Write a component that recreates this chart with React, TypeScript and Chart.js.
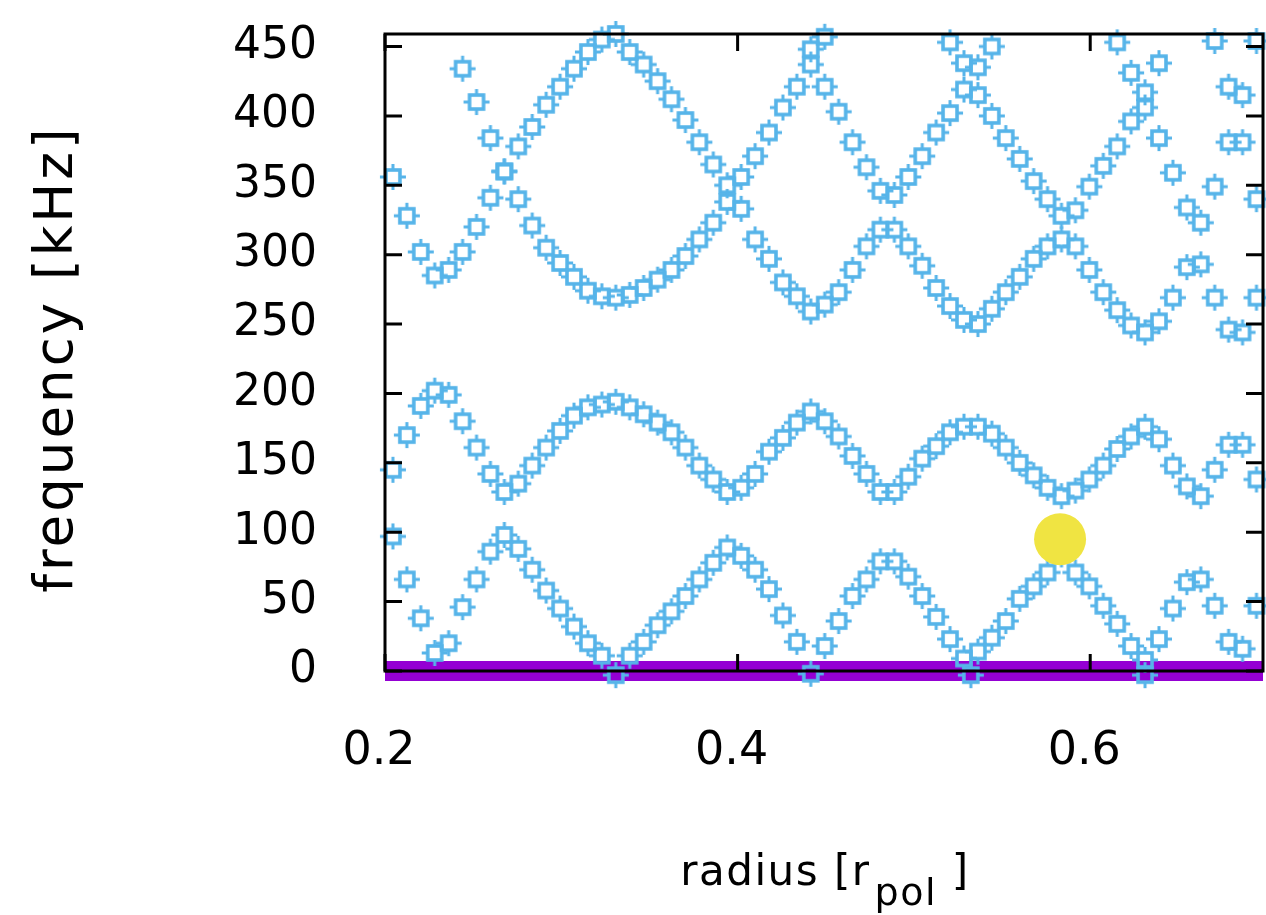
import React, { useEffect, useRef } from 'react';
import { Chart, registerables } from 'chart.js';

Chart.register(...registerables);

// radial grid (r_pol)
const radius = [
  0.2045, 0.2124, 0.2203, 0.2282, 0.2361, 0.2440, 0.2519, 0.2598, 0.2677, 0.2756,
  0.2835, 0.2914, 0.2993, 0.3072, 0.3151, 0.3230, 0.3309, 0.3388, 0.3467, 0.3546,
  0.3625, 0.3704, 0.3783, 0.3862, 0.3941, 0.4020, 0.4099, 0.4178, 0.4257, 0.4336,
  0.4415, 0.4494, 0.4573, 0.4652, 0.4731, 0.4810, 0.4889, 0.4968, 0.5047, 0.5126,
  0.5205, 0.5284, 0.5363, 0.5442, 0.5521, 0.5600, 0.5679, 0.5758, 0.5837, 0.5916,
  0.5995, 0.6074, 0.6153, 0.6232, 0.6311, 0.6390, 0.6469, 0.6548, 0.6627, 0.6706,
  0.6785, 0.6864, 0.6943,
];

// lowest mode (kHz), starts at radius index 0
const modeLStart = 0;
const modeL = [
  97, 66, 38, 13, 20, 46, 66, 86, 98, 88,
  73, 58, 45, 32, 20, 11, -3, 11, 21, 33,
  43, 54, 66, 78, 89, 83, 73, 59, 40, 21,
  -2, 18, 36, 54, 66, 79, 79, 68, 54, 39,
  23, 9, 14, 24, 36, 52, 61, 71, 84, 71,
  61, 47, 34, 18, 8, 23, 45, 64, 66, 47,
  21, 16, 47,
];

// second mode band
const mode2Start = 0;
const mode2 = [
  145, 170, 191, 202, 199, 180, 161, 142, 129, 135,
  148, 161, 173, 184, 190, 192, 194, 190, 185, 179,
  172, 161, 148, 138, 129, 132, 142, 158, 168, 179,
  187, 180, 169, 155, 142, 129, 129, 140, 153, 162,
  172, 176, 176, 171, 161, 150, 141, 132, 126, 130,
  138, 148, 160, 169, 176, 167, 148, 133, 126, 145,
  163, 163, 138,
];

// upper modes
const modeAStart = 0;
const modeA = [
  356, 328, 302, 285, 289, 302, 320, 341, 360, 378,
  392, 408, 421, 434, 446, 455, 459, 446, 437, 425,
  412, 397, 381, 365, 350, 333, 311, 297, 280, 270,
  259, 264, 273, 289, 306, 318, 343, 356, 371, 388,
  402, 419, 435, 450,
];

const modeBStart = 5;
const modeB = [
  434, 410, 384, 360, 340, 321, 305, 294, 284, 274,
  270, 269, 271, 276, 282, 289, 299, 311, 323, 338,
  356, 371, 388, 406, 421, 437, 457,
];

const modeCStart = 30;
const modeC = [
  448, 421, 403, 381, 363, 346, 318, 306, 292, 276,
  263, 253, 250, 261, 273, 284, 297, 306, 311, 332,
  349, 364, 378, 396, 406,
];

const modeDStart = 40;
const modeD = [
  453, 438, 415, 400, 384, 369, 353, 340, 328, 306,
  289, 273, 260, 249, 244, 252, 269, 291, 293, 269,
  246, 244, 269,
];

// isolated points near the outer edge and below zero
const extraX = [0.6153, 0.6232, 0.6311, 0.6390, 0.6390, 0.6469, 0.6548, 0.6627, 0.6706, 0.6785, 0.6864, 0.6785, 0.6864, 0.6706, 0.6943, 0.6943, 0.5323, 0.6311];
const extraY = [453, 431, 417, 438, 384, 359, 334, 323, 349, 381, 381, 421, 415, 454, 454, 340, -3, -3];

// highlighted point
const markX = [0.5829];
const markY = [95];

// zero line
const baseX = [0.2, 0.698];
const baseY = [0, 0];

const xTickValues = [0.2, 0.4, 0.6];
const yTickValues = [0, 50, 100, 150, 200, 250, 300, 350, 400, 450];

const FONT = '"DejaVu Sans", "Liberation Sans", sans-serif';
const BLUE = '#56B4E9';

function branch(start: number, values: number[]) {
  return values.map((y, k) => ({ x: radius[start + k], y }));
}

// open square with short outward ticks at the middle of each side
function makeMarker(): HTMLCanvasElement {
  const c = document.createElement('canvas');
  c.width = 30;
  c.height = 30;
  const g = c.getContext('2d') as CanvasRenderingContext2D;
  const m = 15;
  g.strokeStyle = BLUE;
  g.lineWidth = 3.6;
  g.strokeRect(m - 7, m - 7, 14, 14);
  g.lineWidth = 3;
  g.beginPath();
  g.moveTo(m, m - 8); g.lineTo(m, 2);
  g.moveTo(m, m + 8); g.lineTo(m, 28);
  g.moveTo(m - 8, m); g.lineTo(2, m);
  g.moveTo(m + 8, m); g.lineTo(28, m);
  g.stroke();
  return c;
}

const framePlugin = {
  id: 'frameAndTitles',
  afterDatasetsDraw(chart: any) {
    const { ctx, chartArea } = chart;
    const { left, right, top, bottom } = chartArea;
    const xs = chart.scales.x;
    const ys = chart.scales.y;
    ctx.save();
    ctx.strokeStyle = '#000';
    ctx.lineWidth = 3;
    ctx.strokeRect(left, top, right - left, bottom - top);
    const tl = 17;
    ctx.beginPath();
    ys.ticks.forEach((t: any) => {
      const py = ys.getPixelForValue(t.value);
      ctx.moveTo(left, py);
      ctx.lineTo(left + tl, py);
      ctx.moveTo(right, py);
      ctx.lineTo(right - tl, py);
    });
    xs.ticks.forEach((t: any) => {
      const px = xs.getPixelForValue(t.value);
      ctx.moveTo(px, bottom);
      ctx.lineTo(px, bottom - tl);
      ctx.moveTo(px, top);
      ctx.lineTo(px, top + tl);
    });
    ctx.stroke();
    ctx.restore();
  },
  afterDraw(chart: any) {
    const { ctx } = chart;
    ctx.save();
    ctx.fillStyle = '#000';
    // y title
    ctx.translate(72, 359);
    ctx.rotate(-Math.PI / 2);
    ctx.font = `53px ${FONT}`;
    (ctx as any).letterSpacing = '3px';
    ctx.textAlign = 'center';
    ctx.textBaseline = 'alphabetic';
    ctx.fillText('frequency [kHz]', 0, 0);
    ctx.restore();

    // x title with subscript
    ctx.save();
    ctx.fillStyle = '#000';
    ctx.textBaseline = 'alphabetic';
    ctx.textAlign = 'left';
    (ctx as any).letterSpacing = '1.5px';
    const mainFont = `42px ${FONT}`;
    const subFont = `38px ${FONT}`;
    const p1 = 'radius [r';
    const p2 = 'pol';
    const p3 = ' ]';
    ctx.font = mainFont;
    const w1 = ctx.measureText(p1).width;
    const w3 = ctx.measureText(p3).width;
    ctx.font = subFont;
    const w2 = ctx.measureText(p2).width;
    const total = w1 + 4 + w2 + w3;
    let x0 = 825 - total / 2;
    const base = 885;
    ctx.font = mainFont;
    ctx.fillText(p1, x0, base);
    x0 += w1 + 4;
    ctx.font = subFont;
    ctx.fillText(p2, x0, base + 20);
    x0 += w2;
    ctx.font = mainFont;
    ctx.fillText(p3, x0, base);
    ctx.restore();
  },
};

function zeroPadding(scale: any) {
  scale.paddingTop = 0;
  scale.paddingBottom = 0;
  scale.paddingLeft = 0;
  scale.paddingRight = 0;
}

export default function App() {
  const ref = useRef<HTMLCanvasElement>(null);

  useEffect(() => {
    document.body.style.margin = '0';
    document.body.style.overflow = 'hidden';
    const marker = makeMarker();
    const pts = [
      ...branch(modeLStart, modeL),
      ...branch(mode2Start, mode2),
      ...branch(modeAStart, modeA),
      ...branch(modeBStart, modeB),
      ...branch(modeCStart, modeC),
      ...branch(modeDStart, modeD),
      ...extraX.map((x, k) => ({ x, y: extraY[k] })),
    ];
    const chart = new Chart(ref.current as HTMLCanvasElement, {
      type: 'scatter',
      data: {
        datasets: [
          {
            data: markX.map((x, k) => ({ x, y: markY[k] })),
            pointStyle: 'circle',
            pointRadius: 26,
            pointBackgroundColor: '#F0E442',
            pointBorderWidth: 0,
            order: 0,
            clip: false,
          } as any,
          {
            data: pts,
            pointStyle: marker,
            pointRadius: 15,
            order: 1,
            clip: false,
          },
          {
            data: baseX.map((x, k) => ({ x, y: baseY[k] })),
            showLine: true,
            borderColor: '#9400D3',
            borderWidth: 20,
            borderCapStyle: 'butt',
            pointRadius: 0,
            order: 3,
            clip: false,
          },
        ],
      },
      options: {
        responsive: false,
        maintainAspectRatio: false,
        devicePixelRatio: 1,
        animation: false,
        events: [],
        layout: { autoPadding: false, padding: { top: 34, right: 3, left: 0, bottom: 0 } },
        plugins: { legend: { display: false }, tooltip: { enabled: false } },
        scales: {
          x: {
            type: 'linear',
            min: 0.2,
            max: 0.698,
            grid: { display: false, drawTicks: false },
            border: { display: false },
            afterBuildTicks: (axis: any) => {
              axis.ticks = xTickValues.map((v) => ({ value: v }));
            },
            afterFit: (scale: any) => {
              scale.height = 244;
              zeroPadding(scale);
            },
            ticks: {
              autoSkip: false,
              maxRotation: 0,
              padding: 53,
              labelOffset: -6,
              color: '#000',
              font: { family: FONT, size: 46 },
              callback: (v: any) => Number(v).toFixed(1),
            },
          },
          y: {
            type: 'linear',
            min: 0,
            max: 459,
            grid: { display: false, drawTicks: false },
            border: { display: false },
            afterBuildTicks: (axis: any) => {
              axis.ticks = yTickValues.map((v) => ({ value: v }));
            },
            afterFit: (scale: any) => {
              scale.width = 385;
              zeroPadding(scale);
            },
            ticks: {
              autoSkip: false,
              padding: 68,
              color: '#000',
              font: { family: FONT, size: 44 },
              callback: (v: any) => String(v),
            },
          },
        },
      },
      plugins: [framePlugin],
    });
    return () => chart.destroy();
  }, []);

  return (
    <div style={{ width: 1266, height: 915 }}>
      <canvas ref={ref} width={1266} height={915} style={{ display: 'block' }} />
    </div>
  );
}
